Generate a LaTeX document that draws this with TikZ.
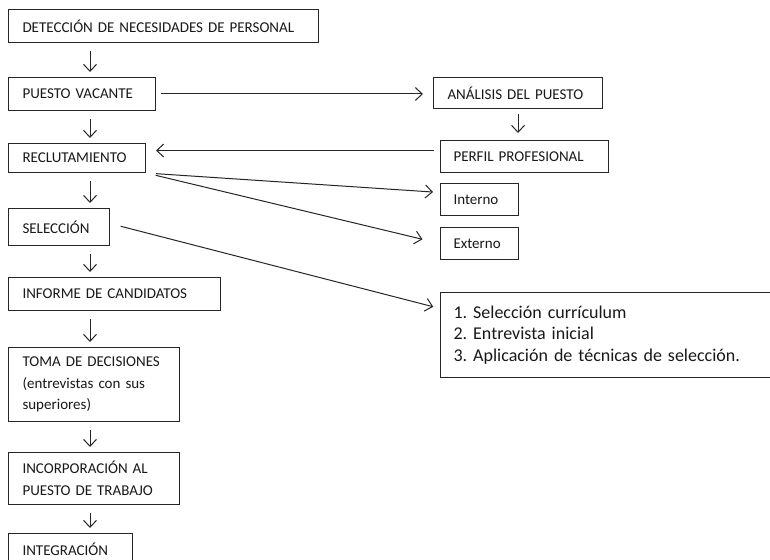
\documentclass[tikz,border=0pt]{standalone}
\usepackage{fontspec}
\setmainfont{Carlito}
\usetikzlibrary{arrows.meta}
\frenchspacing
\begin{document}
\begin{tikzpicture}[x=1pt,y=-1pt,
  box/.style={draw=black!85, line width=1pt, anchor=north west, inner xsep=14pt, inner ysep=0pt,
    align=left, font=\fontsize{15}{21.5}\selectfont, text=black!90},
  bigbox/.style={box, inner xsep=13pt, font=\fontsize{18}{21.5}\selectfont},
  arr/.style={draw=black!85, line width=1pt, -{Straight Barb[length=7pt,width=13pt,line width=1pt]}},
  down/.style={arr, shorten <=8pt, shorten >=5pt}]
\clip (0,0) rectangle (770,559);
\fill[white] (0,0) rectangle (770,559);
% left column
\node[box, text width=282pt, minimum height=33pt] (det) at (8,9) {DETECCIÓN DE NECESIDADES DE PERSONAL};
\node[box, text width=119pt, minimum height=33pt] (pv) at (8,77) {PUESTO VACANTE};
\node[box, text width=109pt, minimum height=29pt] (rec) at (8,143) {RECLUTAMIENTO};
\node[box, text width=73pt, minimum height=37pt] (sel) at (8,208) {SELECCIÓN};
\node[box, text width=184pt, minimum height=33pt] (inf) at (8,277) {INFORME DE CANDIDATOS};
\node[box, text width=143pt, minimum height=74pt] (toma) at (8,347) {TOMA DE DECISIONES\\(entrevistas con sus\\superiores)};
\node[box, text width=143pt, minimum height=52pt] (inc) at (8,452) {INCORPORACIÓN AL\\PUESTO DE TRABAJO};
\node[box, text width=96pt, minimum height=32pt] (integ) at (8,533) {INTEGRACIÓN};
% right column
\node[box, text width=141pt, minimum height=31pt] (ana) at (433,77) {ANÁLISIS DEL PUESTO};
\node[box, inner xsep=13pt, text width=142pt, minimum height=32pt] (per) at (440,140) {PERFIL PROFESIONAL};
\node[box, inner xsep=13pt, text width=52pt, minimum height=32pt] (int) at (440,183) {Interno};
\node[box, inner xsep=13pt, text width=52pt, minimum height=32pt] (ext) at (440,227) {Externo};
\node[bigbox, text width=314pt, minimum height=85pt] (lst) at (440,292) {1. Selección currículum\\2. Entrevista inicial\\3. Aplicación de técnicas de selección.};
% vertical arrows
\foreach \a/\b in {det/pv, pv/rec, rec/sel, sel/inf, inf/toma, toma/inc, inc/integ}
  \draw[down] ([xshift=82pt]\a.south west) -- ([xshift=82pt]\b.north west);
% other connectors
\draw[arr, shorten <=5pt, shorten >=10pt] (pv.east) -- (pv.east -| ana.west);
\draw[arr, shorten <=5pt, shorten >=7pt] (ana.south) -- (ana.south |- per.north);
\draw[arr, shorten <=6pt, shorten >=10pt] ([yshift=6pt]per.west) -- ([yshift=7.5pt]rec.east);
\draw[arr, shorten <=10pt, shorten >=7pt] (rec.south east) -- ([yshift=7pt]int.west);
\draw[arr, shorten <=10pt, shorten >=18pt] (rec.south east) -- (ext.west);
\draw[arr, shorten <=11pt, shorten >=7pt] ([yshift=3.5pt]sel.east) -- ([yshift=26.5pt]lst.west);
\end{tikzpicture}
\end{document}
